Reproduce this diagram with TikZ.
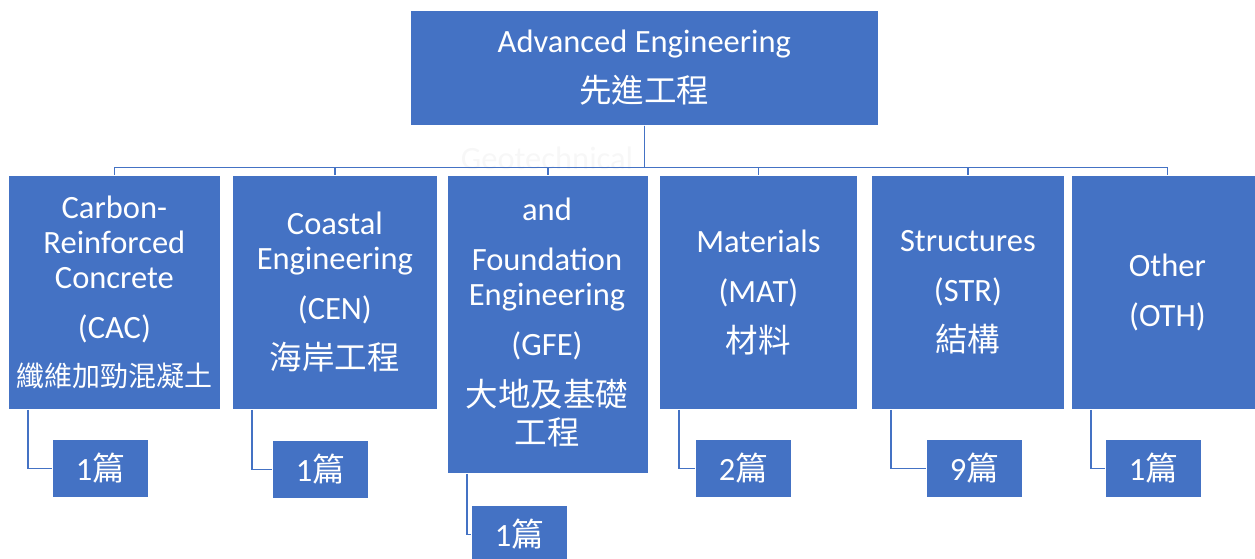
\documentclass[tikz,border=0pt]{standalone}
\usepackage{fontspec}
\setmainfont{Carlito}
\newfontfamily\cjk{Noto Sans CJK TC}
\usetikzlibrary{positioning,calc}
\definecolor{accent}{HTML}{4472C4}

\begin{document}
\begin{tikzpicture}[
		x=1pt, y=-1pt,
		box/.style={rectangle, draw=white, line width=0.8pt, fill=accent, inner sep=0pt, anchor=north west, align=center, text=white, font=\fontsize{32.5}{35}\selectfont},
		catnode/.style={box, minimum height=234pt},
		countnode/.style={box, minimum width=96pt, minimum height=58pt},
		boxtext/.style={align=center, text=white, inner sep=0pt, font=\fontsize{32.5}{35}\selectfont},
		link/.style={draw=accent, line width=1.2pt},
	]
		\useasboundingbox (0,0) rectangle (1255,558);

		% nodes
		\node[box, minimum width=468pt, minimum height=115pt] (root) at (410,10) {Advanced Engineering\\[15pt]{\cjk 先進工程}};

		\node[catnode, minimum width=212pt] (cac) at (8,175) {Carbon-\\Reinforced\\Concrete\\[15pt](CAC)\\[13pt]{\cjk\fontsize{28}{35}\selectfont 纖維加勁混凝土}};
		\node[catnode, minimum width=205pt] (cen) at (232,175) {Coastal\\Engineering\\[15pt](CEN)\\[15pt]{\cjk 海岸工程}};
		\node[catnode, minimum width=201pt, minimum height=298pt] (gfe) at (447,175) {};
		\node[catnode, minimum width=198pt] (mat) at (659,175) {Materials\\[15pt](MAT)\\[15pt]{\cjk 材料}};
		\node[catnode, minimum width=193pt] (str) at (871,175) {Structures\\[15pt](STR)\\[15pt]{\cjk 結構}};
		\node[catnode, minimum width=192pt] (oth) at (1071,175) {Other\\[15pt](OTH)};

		% text of gfe runs out above its box
		\node[boxtext] (gfetext) at (547,297) {{\color{black!3}Geotechnical}\\[16pt]and\\[15pt]Foundation\\Engineering\\[15pt](GFE)\\[16pt]{\cjk 大地及基礎}\\[3pt]{\cjk 工程}};

		\node[countnode] (cac-n) at (52,439) {1{\cjk 篇}};
		\node[countnode] (cen-n) at (272,440) {1{\cjk 篇}};
		\node[countnode] (gfe-n) at (471,505) {1{\cjk 篇}};
		\node[countnode] (mat-n) at (695,439) {2{\cjk 篇}};
		\node[countnode] (str-n) at (926,439) {9{\cjk 篇}};
		\node[countnode] (oth-n) at (1105,439) {1{\cjk 篇}};

		% lines
		\foreach \c in {cac,cen,gfe,mat,str,oth}
			\draw[link] (root.south) -- ++(0,42) -| (\c.north);
		\foreach \c in {cac,cen,gfe,mat,str,oth}
			\draw[link] ([xshift=20pt]\c.south west) |- (\c-n.west);
	\end{tikzpicture}
\end{document}
